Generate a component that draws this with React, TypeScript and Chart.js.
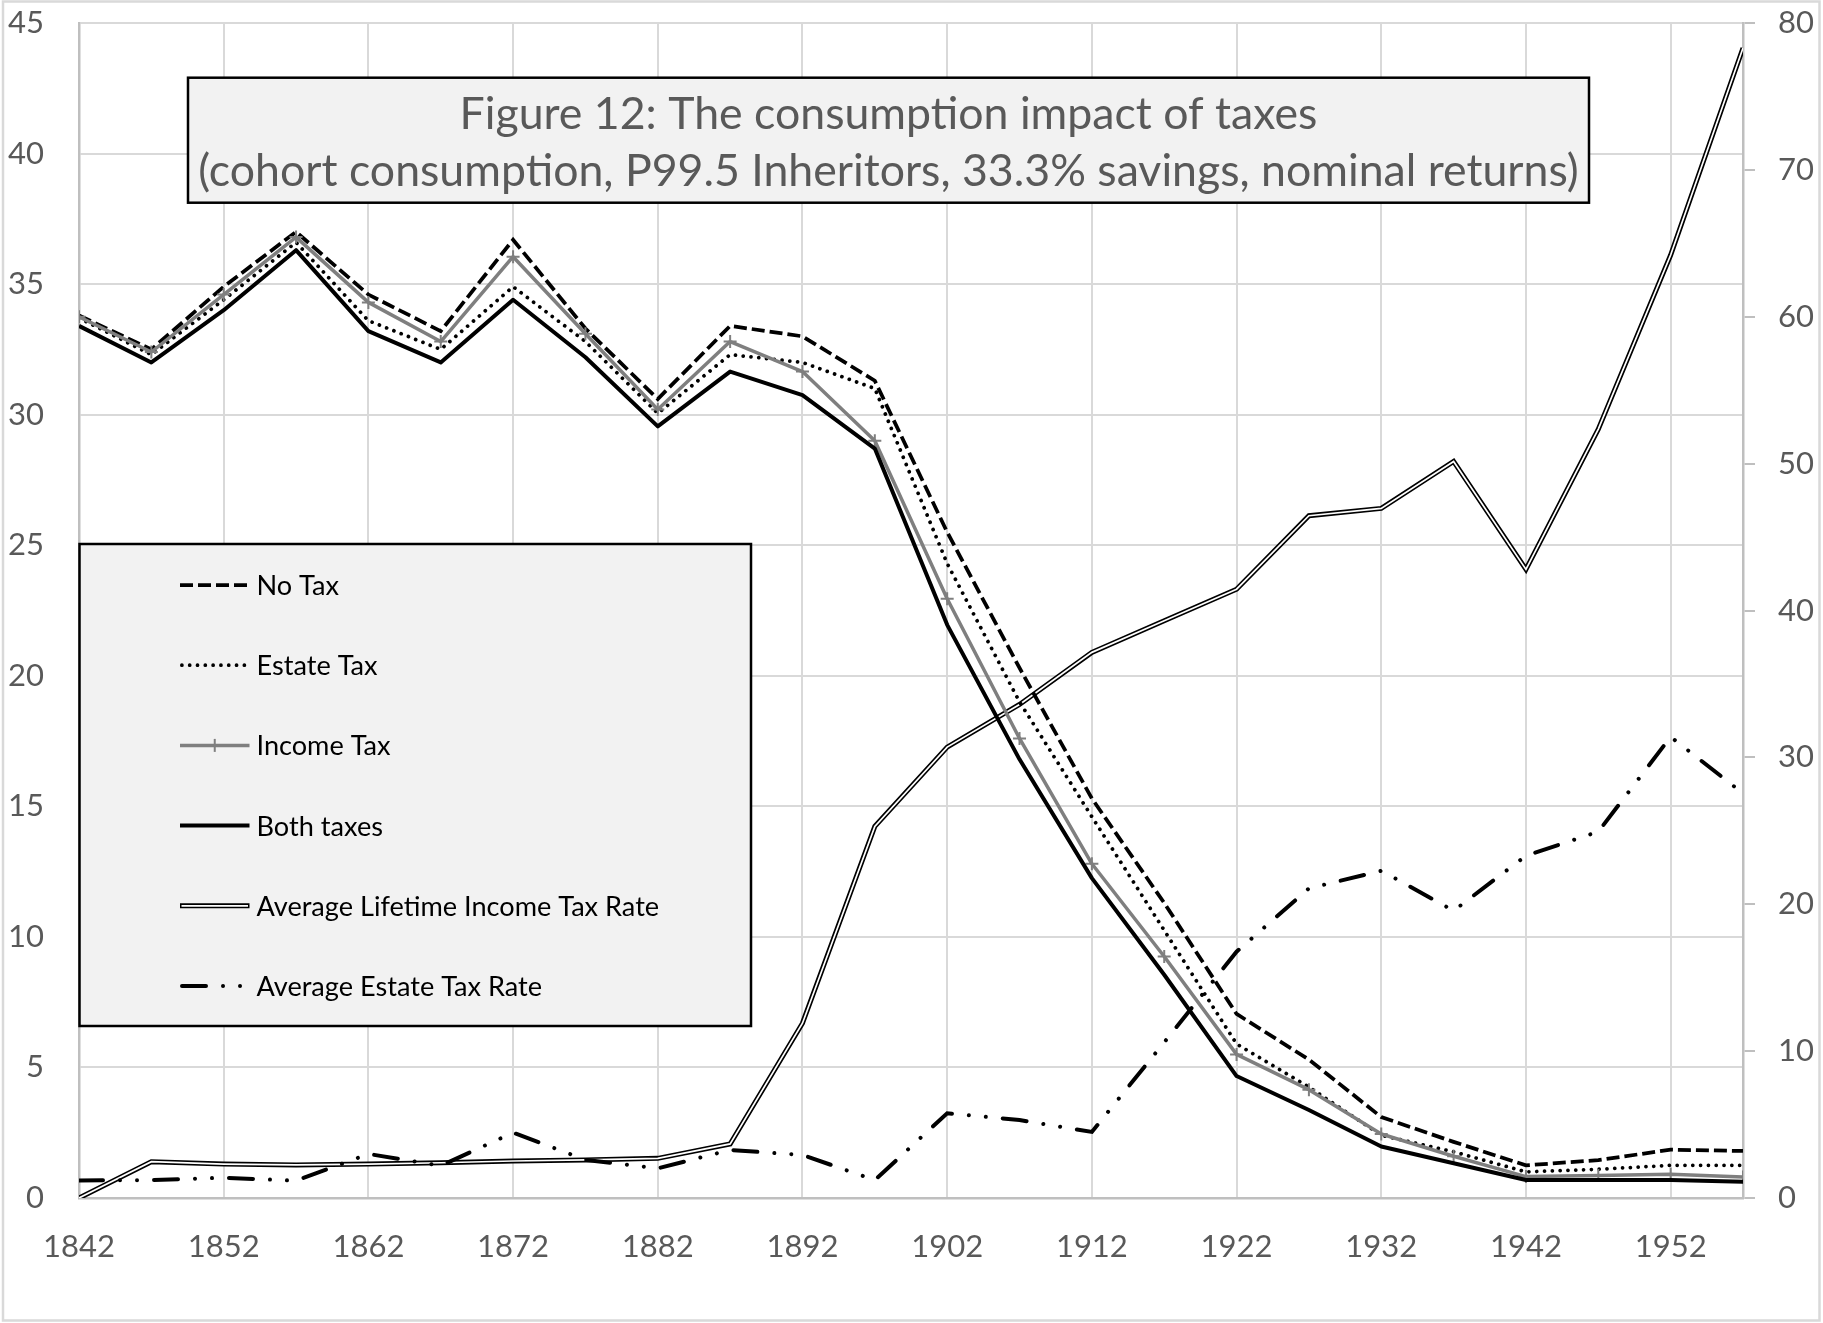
import React, { useEffect, useRef } from 'react';
import { Chart, registerables } from 'chart.js';

Chart.register(...registerables);

// ---------------- data ----------------
const years = [1842, 1847, 1852, 1857, 1862, 1867, 1872, 1877, 1882, 1887, 1892, 1897, 1902, 1907, 1912, 1917, 1922, 1927, 1932, 1937, 1942, 1947, 1952, 1957];
const xTickYears = [1842, 1852, 1862, 1872, 1882, 1892, 1902, 1912, 1922, 1932, 1942, 1952];

const noTax = [33.8, 32.5, 34.9, 37.0, 34.6, 33.2, 36.7, 33.3, 30.6, 33.4, 33.0, 31.3, 25.5, 20.3, 15.3, 11.3, 7.05, 5.3, 3.1, 2.15, 1.25, 1.45, 1.85, 1.8];
const estateTax = [33.7, 32.3, 34.4, 36.6, 33.6, 32.5, 34.9, 32.8, 30.05, 32.3, 32.0, 31.0, 24.3, 19.0, 14.6, 10.25, 5.9, 4.25, 2.4, 1.77, 1.0, 1.1, 1.25, 1.25];
const incomeTax = [33.75, 32.4, 34.6, 36.8, 34.3, 32.8, 36.05, 33.1, 30.2, 32.8, 31.65, 29.0, 22.95, 17.6, 12.8, 9.25, 5.5, 4.15, 2.45, 1.6, 0.82, 0.86, 0.91, 0.8];
const bothTaxes = [33.4, 32.0, 34.0, 36.3, 33.2, 32.0, 34.4, 32.2, 29.55, 31.65, 30.75, 28.7, 21.95, 16.8, 12.25, 8.55, 4.67, 3.37, 1.97, 1.33, 0.69, 0.69, 0.69, 0.62];
const lifetimeIncomeTaxRate = [0, 2.47, 2.31, 2.25, 2.31, 2.4, 2.52, 2.59, 2.7, 3.68, 11.9, 25.3, 30.7, 33.6, 37.15, 39.3, 41.45, 46.45, 46.95, 50.15, 42.8, 52.35, 64.2, 78.3];
const estateTaxRate = [1.2, 1.22, 1.38, 1.18, 3.0, 2.2, 4.45, 2.6, 2.02, 3.27, 2.93, 1.22, 5.77, 5.31, 4.5, 10.6, 16.77, 21.08, 22.28, 19.56, 23.3, 24.94, 31.4, 27.55];

const seriesLabels = ['No Tax', 'Estate Tax', 'Income Tax', 'Both taxes', 'Average Lifetime Income Tax Rate', 'Average Estate Tax Rate'];
const titleLines = [
  'Figure 12: The consumption impact of taxes',
  '(cohort consumption, P99.5 Inheritors, 33.3% savings, nominal returns)',
];

// ---------------- style ----------------
const W = 1823;
const H = 1323;
const FAMILY = 'Lato';
const GRID = '#d9d9d9';
const AXIS = '#bfbfbf';
const TEXT = '#595959';
const GREY_LINE = '#7f7f7f';

function fitSize(text: string, width: number, family: string): number {
  const c = document.createElement('canvas');
  const ctx = c.getContext('2d')!;
  ctx.font = `100px ${family}`;
  const w = ctx.measureText(text).width;
  return (100 * width) / w;
}

const xy = (arr: number[]) => years.map((x, i) => ({ x, y: arr[i] }));

const noPad = (s: any) => {
  s.paddingTop = 0;
  s.paddingBottom = 0;
  s.paddingLeft = 0;
  s.paddingRight = 0;
};

export default function App() {
  const ref = useRef<HTMLCanvasElement | null>(null);

  useEffect(() => {
    document.body.style.margin = '0';
    const canvas = ref.current;
    if (!canvas) return;

    const tickSize = fitSize('1842', 72, FAMILY);
    const titleSize = fitSize(titleLines[1], 1381, FAMILY);
    const legendSize = fitSize(seriesLabels[4], 403, FAMILY);

    const datasets: any[] = [
      {
        label: seriesLabels[0], data: xy(noTax), yAxisID: 'y',
        borderColor: '#000', borderWidth: 3.75, borderDash: [13, 5], order: 4,
        pointRadius: 0, legendIndex: 0,
      },
      {
        label: seriesLabels[1], data: xy(estateTax), yAxisID: 'y',
        borderColor: '#000', borderWidth: 3.75, borderDash: [0.01, 7.8], borderCapStyle: 'round', order: 3,
        pointRadius: 0, legendIndex: 1,
      },
      {
        label: seriesLabels[2], data: xy(incomeTax), yAxisID: 'y',
        borderColor: GREY_LINE, borderWidth: 3.5, order: 2, borderJoinStyle: 'round',
        pointStyle: 'cross', pointRadius: 6.5, pointBorderWidth: 2, pointBorderColor: GREY_LINE,
        pointBackgroundColor: GREY_LINE, legendIndex: 2, marker: true,
      },
      {
        label: seriesLabels[3], data: xy(bothTaxes), yAxisID: 'y',
        borderColor: '#000', borderWidth: 4, order: 1, borderJoinStyle: 'round',
        pointRadius: 0, legendIndex: 3,
      },
      {
        label: seriesLabels[4], data: xy(lifetimeIncomeTaxRate), yAxisID: 'y1',
        borderColor: '#000', borderWidth: 5, order: 8, borderJoinStyle: 'miter',
        pointRadius: 0, legendIndex: 4, double: true,
      },
      {
        label: seriesLabels[4] + ' (inner)', data: xy(lifetimeIncomeTaxRate), yAxisID: 'y1',
        borderColor: '#fff', borderWidth: 1.7, order: 7, borderJoinStyle: 'miter',
        pointRadius: 0, overlay: true,
      },
      {
        label: seriesLabels[5], data: xy(estateTaxRate), yAxisID: 'y1',
        borderColor: '#000', borderWidth: 4, borderDash: [24, 17, 0.01, 17, 0.01, 17], borderCapStyle: 'round',
        order: 5, pointRadius: 0, legendIndex: 5,
      },
    ];

    const bgPlugin = {
      id: 'bg',
      beforeDraw(chart: any) {
        const ctx = chart.ctx;
        ctx.save();
        ctx.fillStyle = '#fff';
        ctx.fillRect(0, 0, W, H);
        ctx.strokeStyle = GRID;
        ctx.lineWidth = 2.5;
        ctx.strokeRect(3, 1.5, W - 6.5, H - 4);
        ctx.restore();
      },
    };

    const boxesPlugin = {
      id: 'boxes',
      afterDraw(chart: any) {
        const ctx = chart.ctx as CanvasRenderingContext2D;
        ctx.save();
        // Title box
        const tx0 = 188, ty0 = 77.7, tx1 = 1589, ty1 = 202.7;
        ctx.fillStyle = '#f2f2f2';
        ctx.fillRect(tx0, ty0, tx1 - tx0, ty1 - ty0);
        ctx.strokeStyle = '#000';
        ctx.lineWidth = 2.5;
        ctx.setLineDash([]);
        ctx.strokeRect(tx0, ty0, tx1 - tx0, ty1 - ty0);
        ctx.fillStyle = TEXT;
        ctx.font = `${titleSize}px ${FAMILY}`;
        ctx.textAlign = 'center';
        ctx.textBaseline = 'alphabetic';
        const cx = (tx0 + tx1) / 2;
        ctx.fillText(titleLines[0], cx, 128.5);
        ctx.fillText(titleLines[1], cx, 185.5);

        // Legend box
        const lx0 = 79.5, ly0 = 544, lx1 = 751, ly1 = 1026;
        ctx.fillStyle = '#f2f2f2';
        ctx.fillRect(lx0, ly0, lx1 - lx0, ly1 - ly0);
        ctx.strokeStyle = '#000';
        ctx.lineWidth = 2.5;
        ctx.strokeRect(lx0, ly0, lx1 - lx0, ly1 - ly0);

        const entries = chart.data.datasets.filter((d: any) => d.legendIndex !== undefined);
        entries.sort((a: any, b: any) => a.legendIndex - b.legendIndex);
        const sx0 = 180, sx1 = 249.5, textX = 256.5;
        entries.forEach((d: any, i: number) => {
          const y = 585 + i * 80.2;
          ctx.save();
          ctx.strokeStyle = d.borderColor;
          ctx.lineWidth = d.borderWidth;
          ctx.setLineDash(d.borderDash || []);
          ctx.lineCap = d.borderCapStyle || 'butt';
          const round = ctx.lineCap === 'round';
          ctx.beginPath();
          ctx.moveTo(sx0 + (round ? d.borderWidth / 2 : 0), y);
          ctx.lineTo(sx1, y);
          ctx.stroke();
          if (d.double) {
            ctx.strokeStyle = '#fff';
            ctx.lineWidth = 1.7;
            ctx.beginPath();
            ctx.moveTo(sx0 + 1.5, y);
            ctx.lineTo(sx1 - 1.5, y);
            ctx.stroke();
          }
          if (d.marker) {
            const mx = (sx0 + sx1) / 2;
            const r = d.pointRadius;
            ctx.setLineDash([]);
            ctx.lineCap = 'butt';
            ctx.strokeStyle = d.pointBorderColor;
            ctx.lineWidth = d.pointBorderWidth;
            ctx.beginPath();
            ctx.moveTo(mx, y - r);
            ctx.lineTo(mx, y + r);
            ctx.stroke();
          }
          ctx.restore();
          ctx.fillStyle = '#000';
          ctx.font = `${legendSize}px ${FAMILY}`;
          ctx.textAlign = 'left';
          ctx.textBaseline = 'alphabetic';
          ctx.fillText(d.label, textX, y + 0.37 * legendSize);
        });
        ctx.restore();
      },
    };

    const tickFont = { family: FAMILY, size: tickSize };

    const chart = new Chart(canvas, {
      type: 'line',
      data: { datasets },
      options: {
        animation: false,
        responsive: false,
        devicePixelRatio: 1,
        layout: { padding: { top: 23, left: 0, right: 0, bottom: 0 } },
        elements: { line: { tension: 0 } },
        plugins: {
          legend: { display: false },
          title: { display: false },
          tooltip: { enabled: false },
        },
        scales: {
          x: {
            type: 'linear',
            min: 1842,
            max: 1957,
            afterBuildTicks: (s: any) => {
              s.ticks = xTickYears.map((v) => ({ value: v }));
            },
            afterFit: (s: any) => {
              s.height = 125;
              noPad(s);
            },
            grid: { color: GRID, lineWidth: 2, drawTicks: false },
            border: { color: AXIS, width: 2.5 },
            ticks: {
              font: tickFont,
              color: TEXT,
              padding: 30,
              maxRotation: 0,
              autoSkip: false,
              callback: (v: any) => String(v),
            },
          },
          y: {
            position: 'left',
            min: 0,
            max: 45,
            afterFit: (s: any) => {
              s.width = 79;
              noPad(s);
            },
            grid: { color: GRID, lineWidth: 2, drawTicks: false },
            border: { color: AXIS, width: 2.5 },
            ticks: { stepSize: 5, font: tickFont, color: TEXT, padding: 35, callback: (v: any) => String(v) },
          },
          y1: {
            position: 'right',
            min: 0,
            max: 80,
            afterFit: (s: any) => {
              s.width = 80;
              noPad(s);
            },
            grid: { drawOnChartArea: false, color: AXIS, lineWidth: 2, tickLength: 12, drawTicks: true },
            border: { color: AXIS, width: 2.5 },
            ticks: { stepSize: 10, font: tickFont, color: TEXT, padding: 23, callback: (v: any) => String(v) },
          },
        },
      } as any,
      plugins: [bgPlugin, boxesPlugin],
    });

    return () => {
      chart.destroy();
    };
  }, []);

  return (
    <div style={{ position: 'absolute', left: 0, top: 0, width: W, height: H }}>
      <canvas ref={ref} width={W} height={H} style={{ display: 'block', width: W, height: H }} />
    </div>
  );
}
